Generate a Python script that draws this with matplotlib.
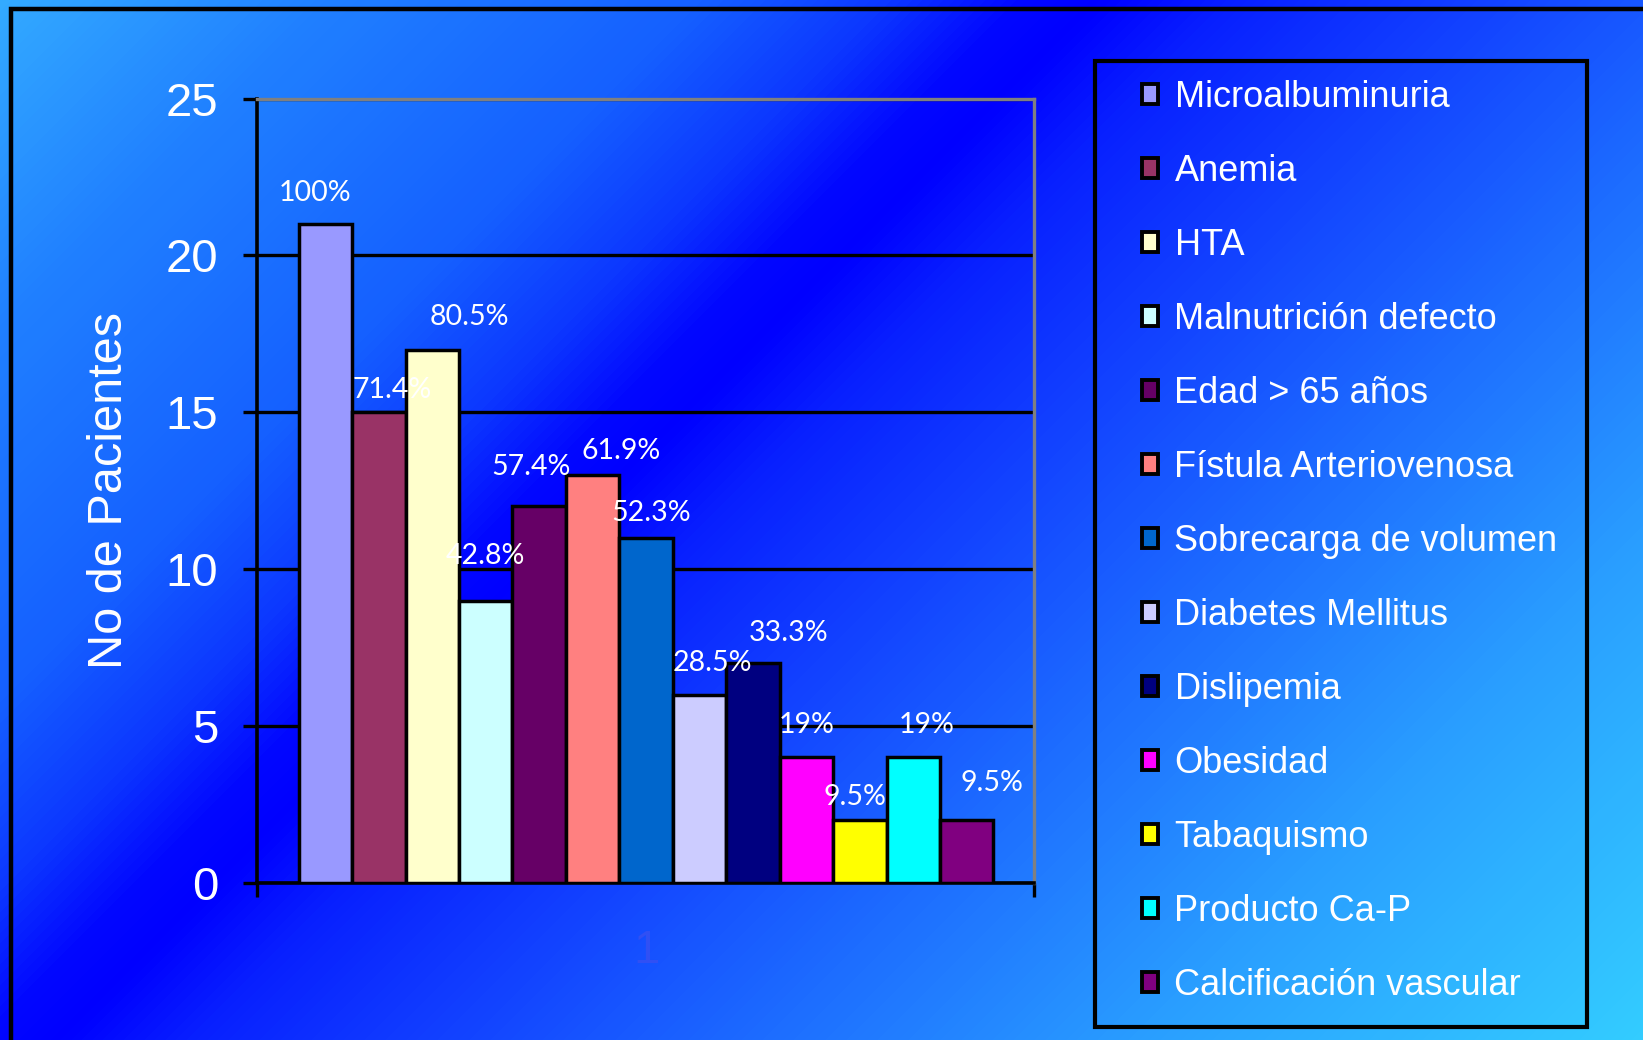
import matplotlib
matplotlib.use("Agg")
import matplotlib.pyplot as plt
import numpy as np
from matplotlib.colors import LinearSegmentedColormap
from matplotlib.patches import Patch, Rectangle

# datos
categorias = ["Microalbuminuria", "Anemia", "HTA", "Malnutrición defecto",
              "Edad > 65 años", "Fístula Arteriovenosa", "Sobrecarga de volumen",
              "Diabetes Mellitus", "Dislipemia", "Obesidad", "Tabaquismo",
              "Producto Ca-P", "Calcificación vascular"]
pacientes = [21, 15, 17, 9, 12, 13, 11, 6, 7, 4, 2, 4, 2]
porcentajes = ["100%", "71.4%", "80.5%", "42.8%", "57.4%", "61.9%", "52.3%",
               "28.5%", "33.3%", "19%", "9.5%", "19%", "9.5%"]
colores = ["#9999ff", "#993366", "#ffffcc", "#ccffff", "#660066", "#ff8080",
           "#0066cc", "#ccccff", "#000080", "#ff00ff", "#ffff00", "#00ffff",
           "#800080"]
yticks = [0, 5, 10, 15, 20, 25]

# where each % label sits relative to its bar top (bar widths / y units)
lab_dx = [-0.2, 0.25, 0.7, 0.0, -0.15, 0.53, 0.1, 0.25, 0.67, 0.0, -0.1, 0.25, 0.47]
lab_dy = [1.0, 0.7, 1.05, 1.43, 1.27, 0.77, 0.8, 1.0, 0.97, 1.03, 0.73, 1.03, 1.2]

W, H = 1643, 1040
fig = plt.figure(figsize=(W / 100, H / 100), dpi=100)

# background gradient, running along the diagonal
bg = fig.add_axes([0, 0, 1, 1], zorder=-10)
xx, yy = np.meshgrid(np.arange(W), np.arange(H))
s = (xx + yy).astype(float)
s /= s.max()
cmap = LinearSegmentedColormap.from_list("fondo", [
    (0.0, "#33aaff"), (0.12, "#2080ff"), (0.26, "#1560ff"), (0.33, "#0c38ff"),
    (0.38, "#0208ff"), (0.41, "#0000ff"), (0.46, "#0820ff"), (0.55, "#1240ff"),
    (0.66, "#1c68ff"), (0.82, "#2aa0ff"), (1.0, "#33ccff")])
bg.imshow(s, cmap=cmap, aspect="auto", interpolation="bilinear")
bg.axis("off")

# outer frame
fig.add_artist(Rectangle((10.5 / W, -0.5), 2.0, 1.5 - 9 / H, transform=fig.transFigure,
                         fill=False, edgecolor="black", linewidth=3.2))

ax = fig.add_axes([257 / W, (H - 883) / H, (1034 - 257) / W, (883 - 98.5) / H])
ax.set_facecolor("none")
x = np.arange(len(pacientes))
ax.bar(x, pacientes, width=1.0, color=colores, edgecolor="black", linewidth=2.5, zorder=3)

for i, (v, t) in enumerate(zip(pacientes, porcentajes)):
    ax.text(i + lab_dx[i], v + lab_dy[i], t, ha="center", va="center",
            color="white", fontsize=20.5, family=["Lato", "DejaVu Sans"], zorder=5)

ax.set_xlim(-1.28, 13.26)
ax.set_ylim(0, 25)
ax.set_yticks(yticks)
ax.set_yticklabels([str(t) for t in yticks])
ax.yaxis.grid(True, color="black", linewidth=2.4)
ax.set_axisbelow(True)
ax.tick_params(axis="y", direction="out", length=10, width=2.4, color="black",
               labelsize=34, labelcolor="white", pad=18)
for lab in ax.get_yticklabels():
    lab.set_family(["Liberation Sans", "DejaVu Sans"])

ax.set_xticks([-1.28, 13.26])
ax.set_xticklabels(["", ""])
ax.tick_params(axis="x", which="major", direction="out", length=10, width=2.4, color="black")
ax.set_xticks([6], ["1"], minor=True)
ax.tick_params(axis="x", which="minor", length=0, labelsize=34, labelcolor="#3050f4", pad=33)
for lab in ax.get_xticklabels(minor=True):
    lab.set_family(["Liberation Sans", "DejaVu Sans"])

for side in ["left", "bottom"]:
    ax.spines[side].set_color("black")
    ax.spines[side].set_linewidth(2.6)
for side in ["top", "right"]:
    ax.spines[side].set_color("#808080")
    ax.spines[side].set_linewidth(2.4)

ax.set_ylabel("No de Pacientes", color="white", fontsize=35,
              family=["Liberation Sans", "DejaVu Sans"], labelpad=24)

# legend box + entries
fig.add_artist(Rectangle((1095 / W, (H - 1027) / H), 492 / W, 966 / H,
                         transform=fig.transFigure, fill=False,
                         edgecolor="black", linewidth=3.0))
handles = [Patch(facecolor=c, edgecolor="black", linewidth=2.8) for c in colores]
fig.legend(handles, categorias, loc="upper left",
           bbox_to_anchor=(1142 / W, 1 - 80 / H), frameon=False,
           prop={"family": ["Liberation Sans", "DejaVu Sans"], "size": 26},
           labelcolor="white", handlelength=0.45, handleheight=0.45,
           handletextpad=0.45, labelspacing=1.08, borderpad=0, borderaxespad=0)

fig.savefig("out.png", dpi=100)
